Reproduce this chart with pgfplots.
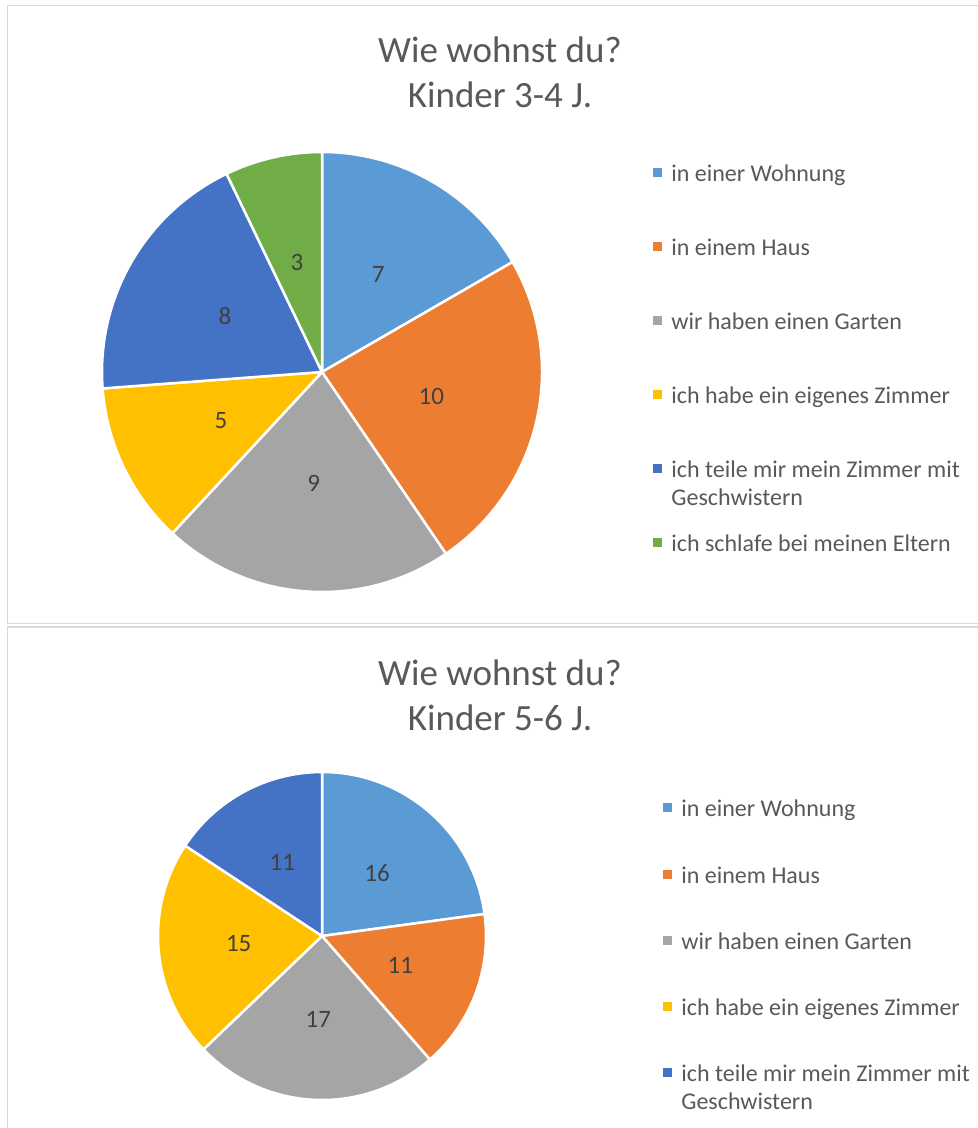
\documentclass[border=0pt]{standalone}
\usepackage{fontspec}
\setmainfont{Carlito}
\usepackage{pgfplots}
\usepackage{pgfplotstable}
\pgfplotsset{compat=1.18}
\definecolor{pA}{HTML}{5B9BD5}
\definecolor{pB}{HTML}{ED7D31}
\definecolor{pC}{HTML}{A5A5A5}
\definecolor{pD}{HTML}{FFC000}
\definecolor{pE}{HTML}{4472C4}
\definecolor{pF}{HTML}{70AD47}
\definecolor{txt}{HTML}{595959}
\definecolor{lbl}{HTML}{404040}
\definecolor{frm}{HTML}{D9D9D9}

\pgfplotstableread{
value col
7 pA
10 pB
9 pC
5 pD
8 pE
3 pF
}\dataA
\pgfplotstableread{
value col
16 pA
11 pB
17 pC
15 pD
11 pE
}\dataB

\newcommand{\drawpie}[3]{%
  \gdef\pietotal{0}%
  \pgfplotstableforeachcolumnelement{value}\of#1\as\pieV{%
    \pgfmathsetmacro\pieT{\pietotal+\pieV}\xdef\pietotal{\pieT}}%
  \gdef\pieang{90}%
  \pgfplotstableforeachcolumnelement{value}\of#1\as\pieV{%
    \pgfplotstablegetelem{\pgfplotstablerow}{col}\of#1%
    \xdef\pieC{\pgfplotsretval}%
    \pgfmathsetmacro\pieB{\pieang-360*\pieV/\pietotal}%
    \edef\pietemp{\noexpand\fill[fill=\pieC, draw=white, line width=1.25pt, line join=round] (axis cs:0,0) -- (axis cs:{cos(\pieang)},{sin(\pieang)}) arc[start angle=\pieang, end angle=\pieB, radius=#2] -- cycle;}%
    \pietemp
    \xdef\pieang{\pieB}}%
  \gdef\pieang{90}%
  \pgfplotstableforeachcolumnelement{value}\of#1\as\pieV{%
    \pgfmathsetmacro\pieB{\pieang-360*\pieV/\pietotal}%
    \pgfmathsetmacro\pieM{(\pieang+\pieB)/2}%
    \edef\pietemp{\noexpand\node[text=lbl, font=\noexpand\fontsize{12.5}{14}\noexpand\selectfont] at (axis cs:{#3*cos(\pieM)},{#3*sin(\pieM)}) {\pieV};}%
    \pietemp
    \xdef\pieang{\pieB}}%
}

\pgfplotsset{
  pieaxis/.style={
    hide axis, scale only axis, clip=false,
    xmin=-1, xmax=1, ymin=-1, ymax=1,
    anchor=center,
    legend image code/.code={\fill (0pt,2.25pt) rectangle (4.5pt,6.75pt);},
    legend style={anchor=north west, draw=none, fill=none, inner sep=0pt,
      column sep=4.5pt, font=\fontsize{12}{14}\selectfont, text=txt,
      cells={anchor=base west},
      nodes={inner sep=0pt, text height=0pt, text depth=0pt}},
  }
}

\begin{document}
\begin{tikzpicture}
\useasboundingbox (0pt,0pt) rectangle (489pt,-564pt);
\clip (0pt,0pt) rectangle (489pt,-564pt);
\fill[white] (0pt,0pt) rectangle (489pt,-564pt);
\draw[frm, line width=0.8pt] (3.75pt,-2.75pt) rectangle (600pt,-311.75pt);
\draw[frm, line width=0.8pt] (3.75pt,-313.5pt) rectangle (600pt,-700pt);

\node[anchor=base, text=txt, font=\fontsize{18.5}{22}\selectfont] at (250pt,-31.5pt) {Wie wohnst du?};
\node[anchor=base, text=txt, font=\fontsize{18.5}{22}\selectfont] at (250pt,-54pt) {Kinder 3-4 J.};
\node[anchor=base, text=txt, font=\fontsize{18.5}{22}\selectfont] at (250pt,-342.5pt) {Wie wohnst du?};
\node[anchor=base, text=txt, font=\fontsize{18.5}{22}\selectfont] at (250pt,-365pt) {Kinder 5-6 J.};

\begin{axis}[pieaxis, at={(161pt,-186pt)}, width=220pt, height=220pt,
  legend style={at={(axis description cs:1.2523,0.9636)}, row sep=29.75pt}]
\drawpie{\dataA}{110pt}{0.51}
\addlegendimage{fill=pA, draw=none}\addlegendentry{in einer Wohnung}
\addlegendimage{fill=pB, draw=none}\addlegendentry{in einem Haus}
\addlegendimage{fill=pC, draw=none}\addlegendentry{wir haben einen Garten}
\addlegendimage{fill=pD, draw=none}\addlegendentry{ich habe ein eigenes Zimmer}
\addlegendimage{fill=pE, draw=none}\addlegendentry{\parbox[t]{160pt}{ich teile mir mein Zimmer mit\\Geschwistern}}
\addlegendimage{fill=pF, draw=none}\addlegendentry{ich schlafe bei meinen Eltern}
\end{axis}

\begin{axis}[pieaxis, at={(161pt,-468pt)}, width=164pt, height=164pt,
  legend style={at={(axis description cs:1.5396,0.9055)}, row sep=25.85pt}]
\drawpie{\dataB}{82pt}{0.51}
\addlegendimage{fill=pA, draw=none}\addlegendentry{in einer Wohnung}
\addlegendimage{fill=pB, draw=none}\addlegendentry{in einem Haus}
\addlegendimage{fill=pC, draw=none}\addlegendentry{wir haben einen Garten}
\addlegendimage{fill=pD, draw=none}\addlegendentry{ich habe ein eigenes Zimmer}
\addlegendimage{fill=pE, draw=none}\addlegendentry{\parbox[t]{160pt}{ich teile mir mein Zimmer mit\\Geschwistern}}
\end{axis}
\end{tikzpicture}
\end{document}
